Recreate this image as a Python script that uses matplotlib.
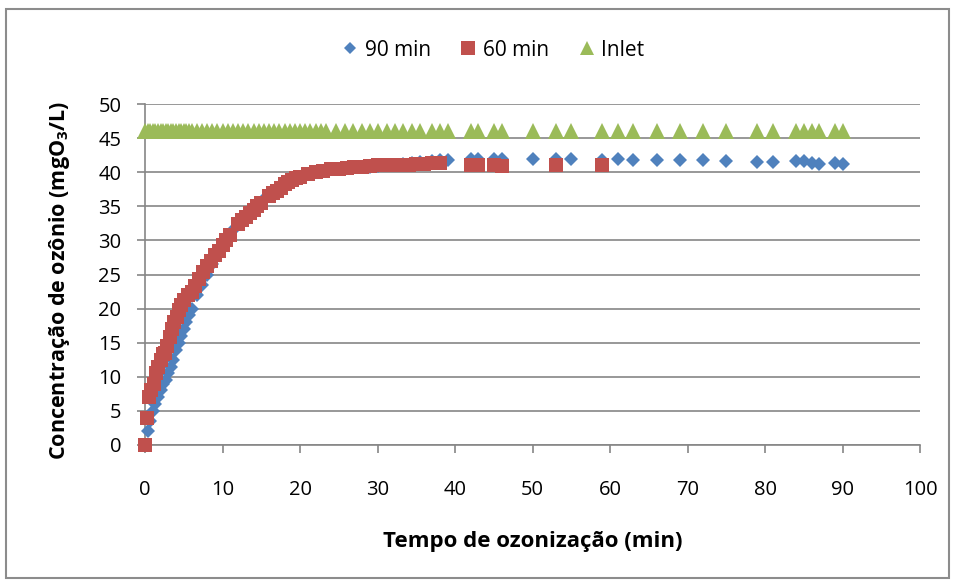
import matplotlib
matplotlib.use("Agg")
import matplotlib.pyplot as plt
from matplotlib.patches import Rectangle

plt.rcParams['font.family'] = ['Open Sans', 'DejaVu Sans']
plt.rcParams['mathtext.fontset'] = 'custom'
plt.rcParams['mathtext.rm'] = 'Open Sans:bold'
plt.rcParams['mathtext.bf'] = 'Open Sans:bold'

# ---- data ----
t90 = [0, 0.33, 0.67, 1, 1.33, 1.67, 2, 2.33, 2.67, 3, 3.33, 3.67, 4, 4.33, 4.67,
       5, 5.33, 5.67, 6, 6.67, 7.33, 8, 8.67, 9.33, 10, 10.67, 11.33, 12, 12.67,
       13.33, 14, 14.67, 15.33, 16, 16.67, 17.33, 18, 18.67, 19.33, 20, 20.67,
       21.33, 22, 22.67, 23.33, 24.7, 25.8, 26.9, 28, 29, 30.1, 31.2, 32.3, 33.3,
       34.4, 35.5, 37, 38.1, 39.1, 42, 43, 45, 46, 50, 53, 55, 59, 61, 63, 66, 69,
       72, 75, 79, 81, 84, 85, 86, 87, 89, 90]
c90 = [0, 2, 3.5, 5, 6, 7, 8, 9, 9.5, 10.5, 11.5, 12.5, 14, 15, 16,
       17, 18, 19, 20, 22, 23.5, 25, 26.5, 28, 29.5, 30.5, 31.5, 32.5, 33.3,
       34, 34.7, 35.4, 36, 36.6, 37.2, 37.7, 38.2, 38.6, 39, 39.3, 39.6,
       39.8, 40, 40.1, 40.2, 40.4, 40.5, 40.6, 40.7, 40.8, 40.9, 41.0, 41.1, 41.2,
       41.4, 41.5, 41.7, 41.8, 41.8, 41.9, 41.9, 41.9, 41.9, 41.9, 41.9, 41.9, 41.8,
       41.9, 41.8, 41.8, 41.8, 41.8, 41.7, 41.5, 41.5, 41.7, 41.6, 41.4, 41.2,
       41.3, 41.2]

t60 = [0, 0.2, 0.5, 0.8, 1.1, 1.4, 1.7, 2.0, 2.3, 2.6, 2.9, 3.2, 3.5, 3.8, 4.1,
       4.4, 4.7, 5.0, 5.5, 6.0, 6.5, 7.0, 7.5, 8.0, 8.5, 9.0, 9.5, 10, 10.5, 11,
       12, 12.5, 13, 13.5, 14, 14.5, 15, 16, 16.5, 17, 17.5, 18, 18.5, 19, 19.5,
       20, 21, 22, 23, 24, 25, 26, 27, 28, 29, 30, 31, 32, 33, 34, 35, 36, 37, 38,
       42, 43, 45, 46, 53, 59]
c60 = [0, 4, 7, 8, 9, 10.5, 11.5, 12.5, 13.3, 13.5, 14.5, 15.8, 17, 18, 18.8,
       19.8, 20.6, 21.2, 22, 22.5, 23.3, 24.3, 25.3, 26.3, 27, 27.8, 28.5, 29.3,
       30, 30.8, 32.4, 33, 33.5, 34, 34.5, 35, 35.5, 36.5, 37, 37.3, 37.7, 38.2,
       38.5, 38.8, 39.1, 39.3, 39.7, 40, 40.2, 40.4, 40.5, 40.6, 40.7, 40.8, 40.9,
       41, 41, 41, 41.1, 41.1, 41.2, 41.2, 41.3, 41.3, 41, 41, 41, 40.9, 41, 41]

t_inlet = t90
c_inlet = [46, 46, 46, 46, 46, 46, 46, 46, 46, 46, 46, 46, 46, 46, 46,
           46, 46, 46, 46, 46, 46, 46, 46, 46, 46, 46, 46, 46, 46,
           46, 46, 46, 46, 46, 46, 46, 46, 46, 46, 46, 46,
           46, 46, 46, 46, 46, 46, 46, 46, 46, 46, 46, 46, 46,
           46, 46, 46, 46, 46, 46, 46, 46, 46, 46, 46, 46, 46,
           46, 46, 46, 46, 46, 46, 46, 46, 46, 46, 46, 46,
           46, 46]

series_labels = ['90 min', '60 min', 'Inlet']
xticks = [0, 10, 20, 30, 40, 50, 60, 70, 80, 90, 100]
yticks = [0, 5, 10, 15, 20, 25, 30, 35, 40, 45, 50]

BLUE = '#4F81BD'
RED = '#C0504D'
GREEN = '#9BBB59'
GRID = '#868686'

fig = plt.figure(figsize=(9.55, 5.81), dpi=100)
ax = fig.add_axes([145/955, 1-445/581, 775/955, 341/581])

ax.plot(t90, c90, linestyle='none', marker='D', ms=6.8, color=BLUE, mec=BLUE,
        mew=0, label=series_labels[0], zorder=3)
ax.plot(t60, c60, linestyle='none', marker='s', ms=10, color=RED, mec=RED,
        mew=0, label=series_labels[1], zorder=4)
ax.plot(t_inlet, c_inlet, linestyle='none', marker='^', ms=11, color=GREEN,
        mec=GREEN, mew=0, label=series_labels[2], zorder=3)

ax.set_xlim(0, 100)
ax.set_ylim(0, 50)
ax.set_xticks(xticks)
ax.set_yticks(yticks)
ax.grid(axis='y', color=GRID, linewidth=1.2)
ax.set_axisbelow(True)
for s in ['top', 'right']:
    ax.spines[s].set_visible(False)
for s in ['left', 'bottom']:
    ax.spines[s].set_color(GRID)
    ax.spines[s].set_linewidth(1.2)
ax.tick_params(axis='both', direction='out', color=GRID, width=1.2, labelsize=14.5)
ax.tick_params(axis='x', length=6, pad=19)
ax.tick_params(axis='y', length=6, pad=11)
for ln in ax.lines:
    ln.set_clip_on(False)

fig.text(533/955, 1-542/581, 'Tempo de ozonização (min)', ha='center', va='center',
         fontsize=16, fontweight='bold')
fig.text(60/955, 1-280/581, 'Concentração de ozônio (mgO$_3$/L)', ha='center',
         va='center', rotation=90, fontsize=15.5, fontweight='bold')

leg = fig.legend(loc='center', bbox_to_anchor=(493/955, 1-50/581), ncol=3,
                 frameon=False, fontsize=15, handlelength=0.8, handletextpad=0.3,
                 columnspacing=1.4, markerscale=0.95)

fig.patches.append(Rectangle((6/955, 3/581), 943/955, 569/581, transform=fig.transFigure,
                             fill=False, edgecolor='#8C8C8C', linewidth=1.5))

fig.savefig('out.png', dpi=100)
